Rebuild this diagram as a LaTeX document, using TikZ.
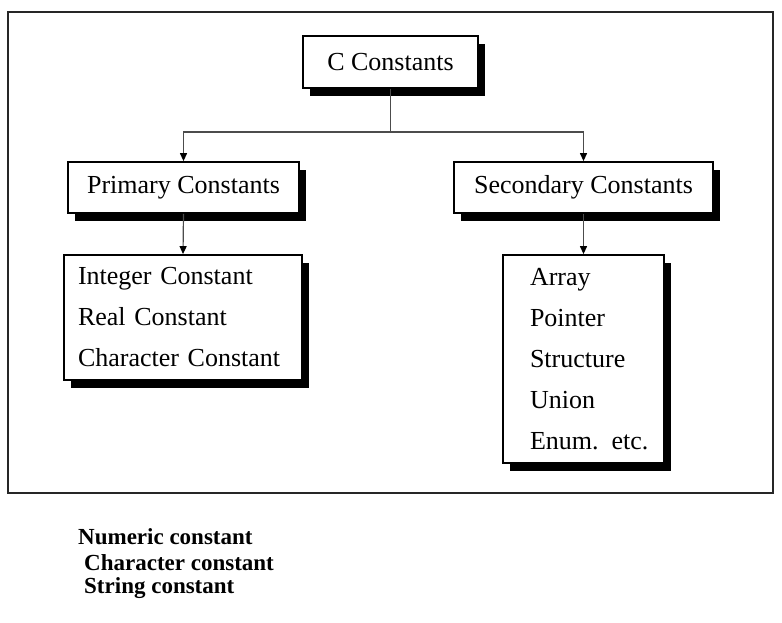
\documentclass[tikz,border=0pt]{standalone}
\usepackage{fontspec}
\setmainfont{Liberation Serif}
\usetikzlibrary{arrows.meta,shadows}
\begin{document}
\begin{tikzpicture}[x=1pt,y=-1pt,
  boxnode/.style={draw=black,line width=1.8pt,fill=white,inner sep=0pt,
    font=\fontsize{26}{41}\selectfont,
    drop shadow={shadow xshift=7pt,shadow yshift=-8pt,fill=black,opacity=1}},
  listnode/.style={boxnode,align=left,inner ysep=0pt},
  conn/.style={draw=black!70,line width=1.2pt},
  arr/.style={conn,-{Triangle[length=8pt,width=7pt,color=black]}},
  foot/.style={anchor=west,inner sep=0pt,font=\fontsize{23}{23}\bfseries\selectfont}]
\useasboundingbox (0,0) rectangle (782,622);
\draw[draw=black!85,line width=1.5pt] (8,12) rectangle (773,493);
\node[boxnode,minimum width=175pt,minimum height=52pt] (c) at (390.5,62) {C Constants};
\node[boxnode,minimum width=231pt,minimum height=51pt] (p) at (183.5,187.5) {Primary Constants};
\node[boxnode,minimum width=259pt,minimum height=51pt] (s) at (583.5,187.5) {Secondary Constants};
\node[listnode,inner xsep=14pt,text width=210pt,minimum height=125pt] (pl) at (183,317.5)
  {Integer Constant\\Real Constant\\Character Constant};
\node[listnode,inner xsep=27pt,text width=107pt,minimum height=208pt] (sl) at (583.5,359)
  {Array\\Pointer\\Structure\\Union\\\mbox{Enum. etc.}};
\coordinate (j) at (c.south |- 0,132);
\draw[conn] (c.south) -- (j);
\draw[arr] (j) -| (p.north);
\draw[arr] (j) -| (s.north);
\draw[arr] (p.south) -- (pl.north);
\draw[arr] (s.south) -- (sl.north);
\node[foot] (n1) at (78,537) {Numeric constant};
\node[foot] (n2) at (84,563) {Character constant};
\node[foot] (n3) at (84,588) {String constant};
\end{tikzpicture}
\end{document}
